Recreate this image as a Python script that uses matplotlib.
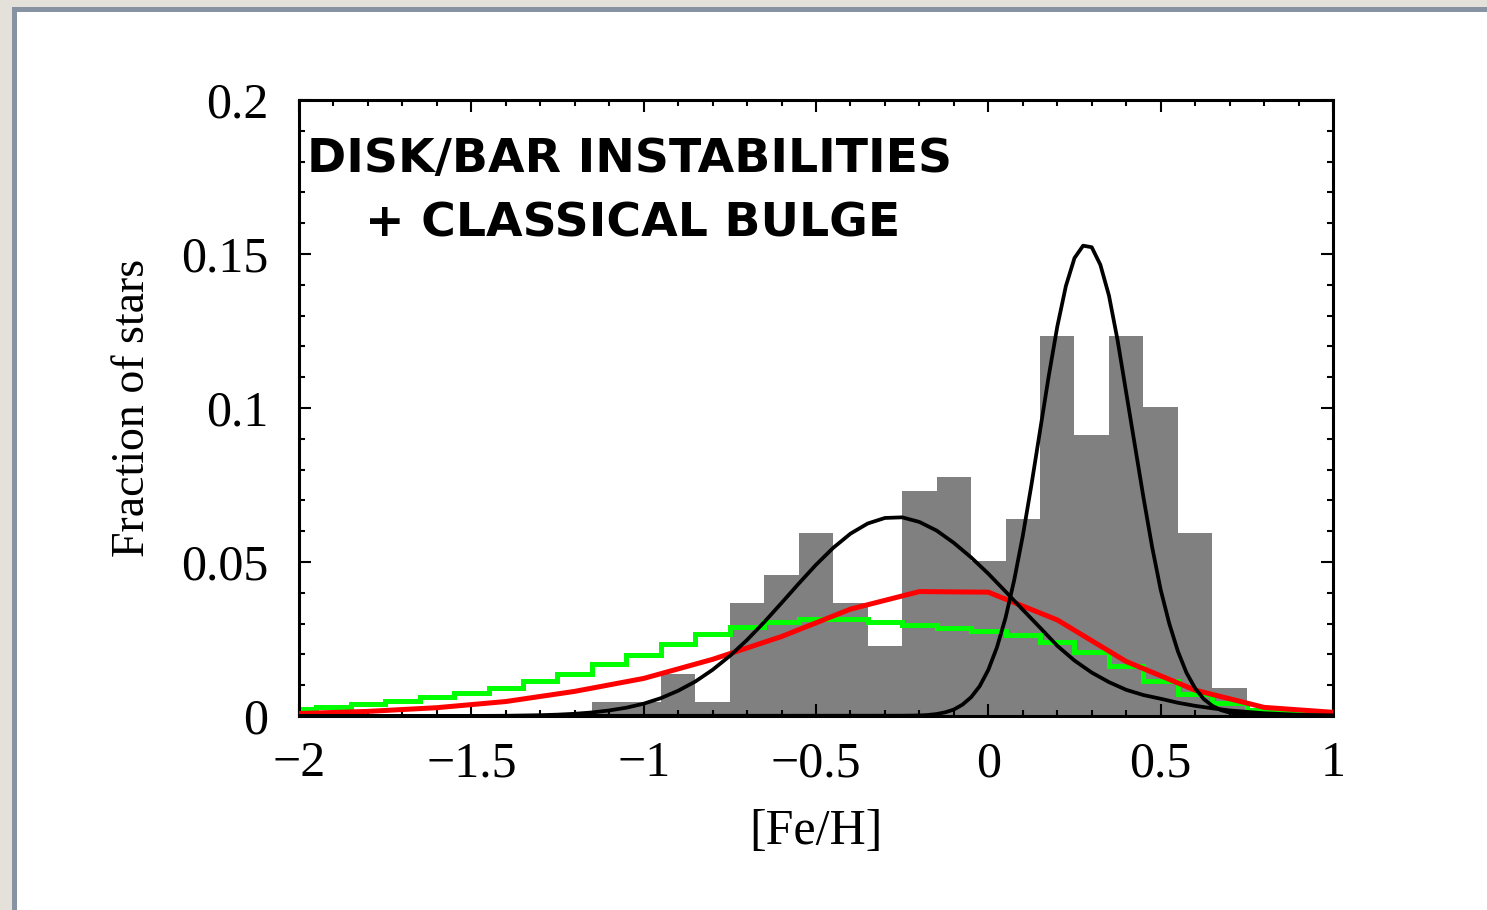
#!/usr/bin/env python3
"""
Metallicity distribution of bulge stars against disk/bar instability models
plus a classical bulge component.
"""

import numpy as np
import matplotlib.pyplot as plt
from matplotlib.patches import Rectangle

# Observed [Fe/H] histogram: bin centres (width 0.1) and star counts
obs_bins = [-1.1, -1.0, -0.9, -0.8, -0.7, -0.6, -0.5, -0.4, -0.3, -0.2,
            -0.1, 0.0, 0.1, 0.2, 0.3, 0.4, 0.5, 0.6, 0.7]
obs_counts = [1, 1, 3, 1, 8, 10, 13, 8, 5, 16, 17, 11, 14, 27, 20, 27, 22, 13, 2]

# Model step histogram (green), same 0.1 binning
model_bins = [-2.0, -1.9, -1.8, -1.7, -1.6, -1.5, -1.4, -1.3, -1.2, -1.1,
              -1.0, -0.9, -0.8, -0.7, -0.6, -0.5, -0.4, -0.3, -0.2, -0.1,
              0.0, 0.1, 0.2, 0.3, 0.4, 0.5, 0.6, 0.7, 0.8, 0.9, 1.0]
model_frac = [0.0022, 0.0030, 0.0038, 0.0050, 0.0061, 0.0074, 0.0090, 0.0115,
              0.0137, 0.0168, 0.0198, 0.0233, 0.0265, 0.0290, 0.0306, 0.0314,
              0.0316, 0.0306, 0.0296, 0.0287, 0.0276, 0.0263, 0.0241, 0.0209,
              0.0162, 0.0115, 0.0071, 0.0041, 0.0019, 0.0014, 0.0010]

# Smoothed model (red)
smooth_feh = [-2.0, -1.8, -1.6, -1.4, -1.2, -1.0, -0.8, -0.6, -0.4, -0.2,
              0.0, 0.2, 0.4, 0.6, 0.8, 1.0]
smooth_frac = [0.0008, 0.0015, 0.0027, 0.0047, 0.0080, 0.0122, 0.0184, 0.0258,
               0.0347, 0.0404, 0.0402, 0.0312, 0.0177, 0.0084, 0.0028, 0.0012]

# Metal-poor component (broad black curve)
poor_feh = [-2.0, -1.5, -1.4, -1.3, -1.25, -1.2, -1.15, -1.1, -1.05, -1.0,
            -0.95, -0.9, -0.85, -0.8, -0.75, -0.7, -0.65, -0.6, -0.55, -0.5,
            -0.45, -0.4, -0.35, -0.3, -0.25, -0.2, -0.15, -0.1, -0.05, 0.0,
            0.05, 0.1, 0.15, 0.2, 0.25, 0.3, 0.35, 0.4, 0.45, 0.5,
            0.55, 0.6, 0.65, 0.7, 0.8, 0.9, 1.0]
poor_frac = [0.0, 0.00002, 0.00008, 0.00026, 0.00044, 0.00072, 0.00115, 0.0018,
             0.0027, 0.0040, 0.0058, 0.0082, 0.0112, 0.0150, 0.0195, 0.0247,
             0.0305, 0.0367, 0.0430, 0.0491, 0.0546, 0.0592, 0.0625, 0.0643,
             0.0645, 0.0630, 0.0602, 0.0562, 0.0515, 0.0462, 0.0404, 0.0345,
             0.0287, 0.0228, 0.0180, 0.0141, 0.0110, 0.0085, 0.0068, 0.0056,
             0.0043, 0.0033, 0.0025, 0.0018, 0.0009, 0.0004, 0.0002]

# Metal-rich component (narrow black curve)
rich_feh = [-2.0, -0.25, -0.2, -0.175, -0.15, -0.125, -0.1, -0.075, -0.05,
            -0.025, 0.0, 0.025, 0.05, 0.075, 0.1, 0.125, 0.15, 0.175, 0.2,
            0.225, 0.25, 0.275, 0.3, 0.325, 0.35, 0.375, 0.4, 0.425, 0.45,
            0.475, 0.5, 0.525, 0.55, 0.575, 0.6, 0.625, 0.65, 0.675, 0.7,
            0.75, 0.8, 1.0]
rich_frac = [0.0, 0.0001, 0.00017, 0.00033, 0.00064, 0.0012, 0.0021, 0.0037,
             0.0061, 0.0097, 0.0150, 0.0223, 0.0319, 0.0441, 0.0585, 0.0750,
             0.0926, 0.1102, 0.1264, 0.1396, 0.1487, 0.1527, 0.1522, 0.1465,
             0.1365, 0.1220, 0.1050, 0.0880, 0.0710, 0.0550, 0.0410, 0.0300,
             0.0210, 0.0140, 0.0090, 0.0055, 0.0033, 0.0019, 0.0011,
             0.0003, 0.0001, 0.0]

BIN_W = 0.1

plt.rcParams['font.family'] = ['Liberation Serif', 'DejaVu Serif']
plt.rcParams['axes.unicode_minus'] = True

fig = plt.figure(figsize=(14.87, 9.10), dpi=100)
fig.patch.set_facecolor('white')

# slide frame: textured margin plus slate rule on left and top
fig.add_artist(Rectangle((0, 0), 12 / 1487, 1, transform=fig.transFigure,
                         facecolor='#e4e1da', edgecolor='none'))
fig.add_artist(Rectangle((0, 1 - 7 / 910), 1, 7 / 910, transform=fig.transFigure,
                         facecolor='#e4e1da', edgecolor='none'))
fig.add_artist(Rectangle((12 / 1487, 0), 5 / 1487, 1 - 7 / 910, transform=fig.transFigure,
                         facecolor='#8793a2', edgecolor='none'))
fig.add_artist(Rectangle((12 / 1487, 1 - 12 / 910), 1, 5 / 910, transform=fig.transFigure,
                         facecolor='#8793a2', edgecolor='none'))

ax = fig.add_axes([299 / 1487, 1 - 716 / 910, 1034 / 1487, 616 / 910])

counts = np.array(obs_counts, dtype=float)
ax.bar(obs_bins, counts / counts.sum(), width=BIN_W, color='#808080',
       edgecolor='none', zorder=1)

centres = np.array(model_bins)
edges = np.append(centres - BIN_W / 2, centres[-1] + BIN_W / 2)
ax.stairs(model_frac, edges, color='#00ff00', lw=3.6, zorder=2)

ax.plot(smooth_feh, smooth_frac, color='#ff0000', lw=3.6, zorder=3)
ax.plot(poor_feh, poor_frac, color='black', lw=2.7, zorder=4)
ax.plot(rich_feh, rich_frac, color='black', lw=2.7, zorder=4)

ax.set_xlim(-2, 1)
ax.set_ylim(0, 0.2)
ax.set_xticks([-2, -1.5, -1, -0.5, 0, 0.5, 1])
ax.set_xticklabels(['\u22122', '\u22121.5', '\u22121', '\u22120.5', '0', '0.5', '1'])
ax.set_yticks([0, 0.05, 0.1, 0.15, 0.2])
ax.set_yticklabels(['0', '0.05', '0.1', '0.15', '0.2'])
ax.set_xticks(np.arange(-2, 1.001, 0.1), minor=True)
ax.set_yticks(np.arange(0, 0.2001, 0.01), minor=True)
ax.tick_params(which='both', direction='in', top=True, right=True, width=1.5)
ax.tick_params(which='major', length=8.5, labelsize=36)
ax.tick_params(which='minor', length=4.5)
ax.tick_params(axis='x', which='major', pad=18)
ax.tick_params(axis='y', which='major', pad=22)
for sp in ax.spines.values():
    sp.set_linewidth(2.2)

ax.set_xlabel('[Fe/H]', fontsize=36)
ax.xaxis.set_label_coords(0.5, -0.15)
ax.set_ylabel('Fraction of stars', fontsize=33)
ax.yaxis.set_label_coords(-0.14, 0.5)

ax.text(0.008, 0.883, 'DISK/BAR INSTABILITIES', transform=ax.transAxes,
        family='DejaVu Sans', fontweight='bold', fontsize=34, ha='left',
        va='baseline')
ax.text(0.064, 0.779, '+ CLASSICAL BULGE', transform=ax.transAxes,
        family='DejaVu Sans', fontweight='bold', fontsize=34, ha='left',
        va='baseline')

fig.savefig('out.png', dpi=100)
